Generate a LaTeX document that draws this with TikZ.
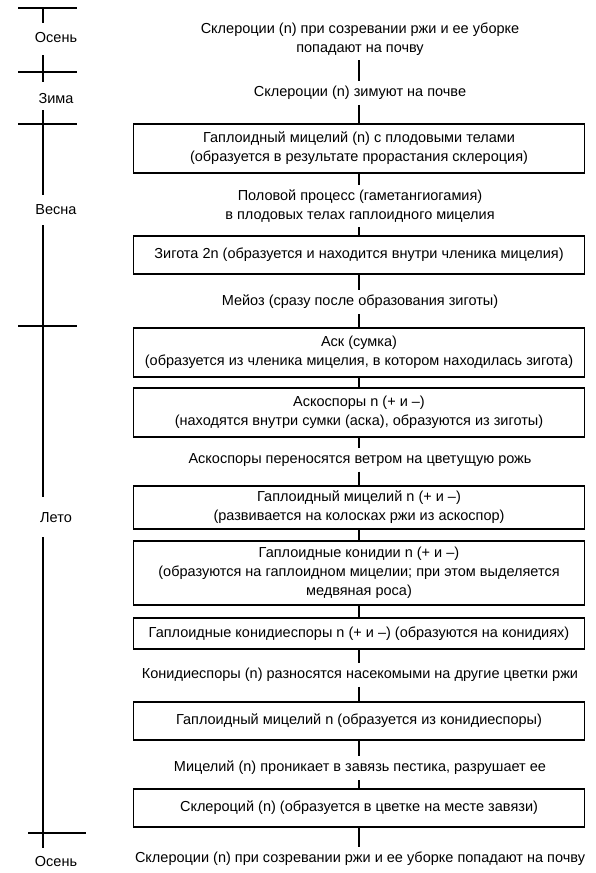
\documentclass[tikz,border=0pt]{standalone}
\usepackage{fontspec}
\setmainfont{Liberation Sans}
\begin{document}
\begin{tikzpicture}[x=1pt,y=-1pt,
  every node/.style={font=\fontsize{14.5}{18.8}\selectfont, align=center},
  stage/.style={draw, line width=1.4pt, minimum width=451pt, inner sep=0pt},
  note/.style={inner xsep=0pt, inner ysep=5pt},
  link/.style={line width=1.1pt},
  tl/.style={line width=1.4pt},
  season/.style={inner sep=0pt}]
\useasboundingbox (0,0) rectangle (595,873);

% timeline
\node[season] (s1) at (56,38) {Осень};
\node[season] (s2) at (56,99) {Зима};
\node[season] (s3) at (56,210) {Весна};
\node[season] (s4) at (56,518) {Лето};
\node[season] (s5) at (56,861) {Осень};
\draw[tl] (18,8) -- (77,8);
\draw[tl] (18,72) -- (77,72);
\draw[tl] (18,124) -- (77,124);
\draw[tl] (18,326) -- (77,326);
\draw[tl] (28,833) -- (86,833);
\draw[tl] (43,8) -- (43,23);
\draw[tl] (43,55) -- (43,82);
\draw[tl] (43,110) -- (43,195);
\draw[tl] (43,225) -- (43,497);
\draw[tl] (43,537) -- (43,848);

% flow
\node[note] (t1) at (360,39) {Склероции (n) при созревании ржи и ее уборке\\попадают на почву};
\node[note] (t2) at (360,93) {Склероции (n) зимуют на почве};
\node[stage, minimum height=49pt] (b1) at (359,148.5) {Гаплоидный мицелий (n) с плодовыми телами\\(образуется в результате прорастания склероция)};
\node[note] (t3) at (360,206) {Половой процесс (гаметангиогамия)\\в плодовых телах гаплоидного мицелия};
\node[stage, minimum height=38pt] (b2) at (359,255) {Зигота 2n (образуется и находится внутри членика мицелия)};
\node[note] (t4) at (360,302) {Мейоз (сразу после образования зиготы)};
\node[stage, minimum height=49pt] (b3) at (359,352.5) {Аск (сумка)\\(образуется из членика мицелия, в котором находилась зигота)};
\node[stage, minimum height=49pt] (b4) at (359,412.5) {Аскоспоры n (+ и –)\\(находятся внутри сумки (аска), образуются из зиготы)};
\node[note] (t5) at (360,460) {Аскоспоры переносятся ветром на цветущую рожь};
\node[stage, minimum height=43pt] (b5) at (359,507.5) {Гаплоидный мицелий n (+ и –)\\(развивается на колосках ржи из аскоспор)};
\node[stage, minimum height=64pt] (b6) at (359,573) {Гаплоидные конидии n (+ и –)\\(образуются на гаплоидном мицелии; при этом выделяется\\медвяная роса)};
\node[stage, minimum height=31pt] (b7) at (359,633.5) {Гаплоидные конидиеспоры n (+ и –) (образуются на конидиях)};
\node[note] (t6) at (360,675) {Конидиеспоры (n) разносятся насекомыми на другие цветки ржи};
\node[stage, minimum height=38pt] (b8) at (359,721) {Гаплоидный мицелий n (образуется из конидиеспоры)};
\node[note] (t7) at (360,768) {Мицелий (n) проникает в завязь пестика, разрушает ее};
\node[stage, minimum height=38pt] (b9) at (359,808) {Склероций (n) (образуется в цветке на месте завязи)};
\node[note] (t8) at (360,859) {Склероции (n) при созревании ржи и ее уборке попадают на почву};

\foreach \a/\b in {t1/t2,t2/b1,b1/t3,t3/b2,b2/t4,t4/b3,b3/b4,b4/t5,t5/b5,b5/b6,b6/b7,b7/t6,t6/b8,b8/t7,t7/b9,b9/t8}
  \draw[link] (\a.south -| b1.center) -- (\b.north -| b1.center);
\end{tikzpicture}
\end{document}
